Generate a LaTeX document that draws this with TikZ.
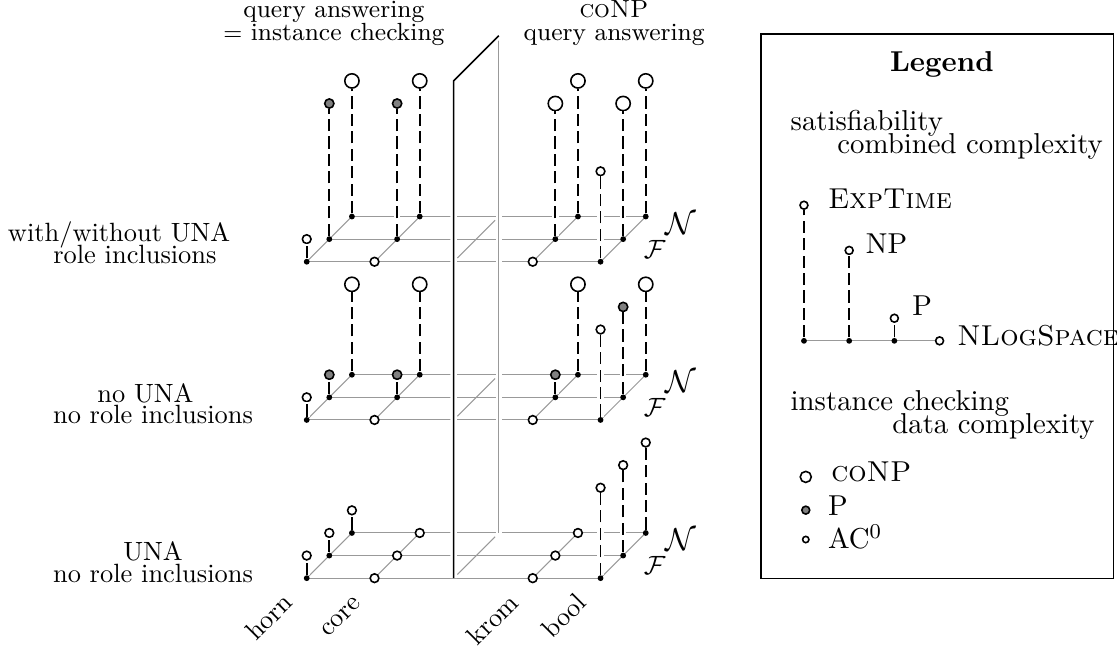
\documentclass[tikz,border=0pt]{standalone}
\usepackage{amsmath}
\tikzset{
  gridline/.style={black!40, line width=0.4pt},
  hidden/.style={black!40, line width=0.4pt},
  plane/.style={black, line width=0.6pt},
  halo/.style={preaction={draw=white, solid, line width=2.4pt}},
  stick/.style={halo, line width=0.65pt, dash pattern=on 4.6pt off 2pt},
  basept/.style={circle, fill=black, inner sep=0pt, minimum size=2.2pt},
  ring/.style={circle, draw=black, line width=0.6pt, fill=white, inner sep=0pt},
  conp/.style={ring, minimum size=5.4pt},
  ptime/.style={ring, fill=gray, minimum size=3.5pt},
  acz/.style={ring, minimum size=3.3pt},
  lsat/.style={ring, minimum size=3pt},
  lconp/.style={ring, minimum size=4.2pt},
  lptime/.style={ring, fill=gray, minimum size=3pt},
  lacz/.style={ring, minimum size=2.4pt},
  toplabel/.style={align=center, font=\fontsize{9.4}{11.3}\selectfont},
  sidelabel/.style={align=center, font=\fontsize{10}{12}\selectfont},
  collabel/.style={rotate=45, anchor=base east, inner sep=0pt},
  ltext/.style={inner sep=0pt, align=left, font=\fontsize{10.9}{13.1}\selectfont}
}
\newcommand{\gridlayer}[1]{ % #1: y-coordinate of the front row
  \foreach \dep in {0,1,2}
  {
    \draw[gridline] (\dep,#1+\dep) -- (13+\dep,#1+\dep); % rows: front, F, N
  }
  \foreach \x in {0,3,10,13}
  {
    \draw[gridline] (\x,#1) -- ++(2,2); % horn, core, krom, bool
  }
}
\newcommand{\cplx}[5]{ % #1: x-coordinate, #2: y-coordinate, #3: stick height, #4: circle style, #5: name
  \node[basept] (#5b) at (#1,#2) {};
  \node[#4] (#5) at (#1,#2+#3) {};
  \draw[stick] (#5b) -- (#5);
}
\begin{document}
\begin{tikzpicture}[x=8.56pt, y=8.56pt]
\useasboundingbox (-13.57,-2.96) rectangle (35.85,25.58);

% Grids of the three layers
\gridlayer{0}
\gridlayer{7}
\gridlayer{14}

% Plane between core and krom
\foreach \L in {0,7,14}
{
    \draw[hidden, shorten <=2pt, shorten >=2pt] (6.5,\L) -- ++(2,2);
}
\draw[hidden, halo] (8.5,2) -- (8.5,24);
\draw[plane, halo] (6.5,0) -- (6.5,22) -- (8.5,24);

% Top layer: with/without UNA, role inclusions
\cplx{0}{14}{1}{acz}{riH0}
\cplx{1}{15}{6}{ptime}{riH1}
\cplx{2}{16}{6}{conp}{riH2}
\node[acz] (riC0) at (3,14) {};
\cplx{4}{15}{6}{ptime}{riC1}
\cplx{5}{16}{6}{conp}{riC2}
\node[acz] (riK0) at (10,14) {};
\cplx{11}{15}{6}{conp}{riK1}
\cplx{12}{16}{6}{conp}{riK2}
\cplx{13}{14}{4}{acz}{riB0}
\cplx{14}{15}{6}{conp}{riB1}
\cplx{15}{16}{6}{conp}{riB2}

% Middle layer: no UNA, no role inclusions
\cplx{0}{7}{1}{acz}{nuH0}
\cplx{1}{8}{1}{ptime}{nuH1}
\cplx{2}{9}{4}{conp}{nuH2}
\node[acz] (nuC0) at (3,7) {};
\cplx{4}{8}{1}{ptime}{nuC1}
\cplx{5}{9}{4}{conp}{nuC2}
\node[acz] (nuK0) at (10,7) {};
\cplx{11}{8}{1}{ptime}{nuK1}
\cplx{12}{9}{4}{conp}{nuK2}
\cplx{13}{7}{4}{acz}{nuB0}
\cplx{14}{8}{4}{ptime}{nuB1}
\cplx{15}{9}{4}{conp}{nuB2}

% Bottom layer: UNA, no role inclusions
\cplx{0}{0}{1}{acz}{unH0}
\cplx{1}{1}{1}{acz}{unH1}
\cplx{2}{2}{1}{acz}{unH2}
\node[acz] (unC0) at (3,0) {};
\node[acz] (unC1) at (4,1) {};
\node[acz] (unC2) at (5,2) {};
\node[acz] (unK0) at (10,0) {};
\node[acz] (unK1) at (11,1) {};
\node[acz] (unK2) at (12,2) {};
\cplx{13}{0}{4}{acz}{unB0}
\cplx{14}{1}{4}{acz}{unB1}
\cplx{15}{2}{4}{acz}{unB2}

% Depth labels
\foreach \L in {0,7,14}
{
    \node (F\L) at (15.4,\L+0.55) {$\mathcal{F}$};
    \node[font=\large] (N\L) at (16.55,\L+1.7) {$\mathcal{N}$};
}

% Column labels
\foreach \x/\name in {0/horn,3/core,10/krom,13/bool}
{
    \node[collabel] (\name) at (\x-0.55,-1.15) {\name};
}

% Labels
\node[toplabel] (qa) at (1.2,24.55) {query answering\\[-2.6pt]$=$ instance checking};
\node[toplabel] (cqa) at (13.6,24.55) {\textsc{coNP}\\[-2.6pt]query answering};
\node[sidelabel] (ri) at (-7.6,14.84) {with/without UNA\hspace*{12pt}\\[-3.8pt]role inclusions};
\node[sidelabel] (nu) at (-6.8,7.72) {no UNA\hspace*{5.7pt}\\[-3.8pt]no role inclusions};
\node[sidelabel] (un) at (-6.8,0.72) {UNA\\[-3.8pt]no role inclusions};

% Legend
\draw[line width=0.5pt] (20.1,0) rectangle (35.7,24.07);
\node[font=\fontsize{10.9}{13.1}\selectfont\bfseries] (lgd) at (28.1,22.72) {Legend};
\node[ltext, anchor=west] (lsattxt) at (21.39,19.63) {satisfiability\\[-4.4pt]\hspace*{17.7pt}combined complexity};
\coordinate (laxl) at (22,10.5);
\coordinate (laxr) at (28,10.5);
\draw[gridline] (laxl) -- (laxr);
\cplx{22}{10.5}{6}{lsat}{lexp}
\cplx{24}{10.5}{4}{lsat}{lnp}
\cplx{26}{10.5}{1}{lsat}{lp}
\node[lsat] (lnl) at (28,10.5) {};
\node[ltext, anchor=base west] (lexptxt) at (23.04,16.36) {\textsc{ExpTime}};
\node[ltext, anchor=base west] (lnptxt) at (24.72,14.37) {NP};
\node[ltext, anchor=base west] (lptxt) at (26.77,11.64) {P};
\node[ltext, anchor=base west] (lnltxt) at (28.76,10.31) {\textsc{NLogSpace}};
\node[ltext, anchor=west] (ldatatxt) at (21.39,7.24) {instance checking\\[-4.4pt]\hspace*{38.5pt}data complexity};
\node[lconp] (lcnp) at (22.08,4.48) {};
\node[lptime] (lpt) at (22.08,3.01) {};
\node[lacz] (lac) at (22.08,1.71) {};
\node[ltext, anchor=base west] (lcnptxt) at (23.19,4.27) {\textsc{coNP}};
\node[ltext, anchor=base west] (lpttxt) at (23.04,2.79) {P};
\node[ltext, anchor=base west] (lactxt) at (23.04,1.31) {AC$^0$};

\end{tikzpicture}
\end{document}
